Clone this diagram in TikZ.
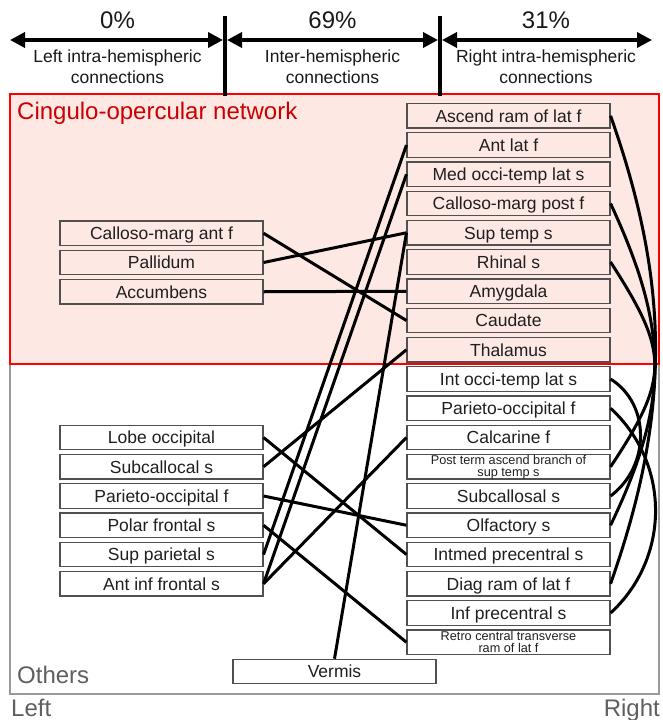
\documentclass[tikz,border=0pt]{standalone}
\usepackage{fontspec}
\setmainfont{Liberation Sans}
\usetikzlibrary{arrows.meta}
\definecolor{netfill}{RGB}{253,232,228}
\definecolor{netred}{RGB}{255,0,0}
\definecolor{nettext}{RGB}{204,0,0}
\definecolor{othgray}{RGB}{153,153,153}
\definecolor{lblgray}{RGB}{95,95,95}
\definecolor{boxline}{RGB}{80,80,80}
\begin{document}
\begin{tikzpicture}[x=1pt,y=-1pt,
  boxbase/.style={draw=boxline,line width=1.1pt,minimum width=203pt,minimum height=24.5pt,inner sep=0pt,text=black!88},
  box/.style={boxbase,text height=12.5pt,text depth=0pt,font=\fontsize{17.5}{20}\selectfont},
  smallbox/.style={boxbase,font=\fontsize{12.7}{12}\selectfont,align=center},
  conn/.style={line width=3pt,black},
  hdr/.style={line width=3.5pt,{Triangle[length=15pt,width=15pt]}-{Triangle[length=15pt,width=15pt]}},
  bar/.style={line width=4pt},
  pct/.style={font=\fontsize{24}{26}\selectfont,text=black!90},
  sublbl/.style={font=\fontsize{17.5}{21}\selectfont,align=center,text=black!90},
  biglbl/.style={font=\fontsize{24}{26}\selectfont,inner sep=0pt}
]
\useasboundingbox (0,0) rectangle (662,720);
% regions
\draw[draw=othgray,line width=2.2pt] (10,364) rectangle (659,694);
\draw[draw=netred,fill=netfill,line width=2pt] (10,94) rectangle (659,364);
% header
\coordinate (a1) at (10,40);
\coordinate (a2) at (223,40);
\coordinate (b1) at (227,40);
\coordinate (b2) at (438,40);
\coordinate (c1) at (442,40);
\coordinate (c2) at (652,40);
\coordinate (bar1t) at (225,16);
\coordinate (bar1b) at (225,96);
\coordinate (bar2t) at (440,16);
\coordinate (bar2b) at (440,96);
\draw[bar] (bar1t) -- (bar1b);
\draw[bar] (bar2t) -- (bar2b);
\draw[hdr] (a1) -- (a2);
\draw[hdr] (b1) -- (b2);
\draw[hdr] (c1) -- (c2);
\node[pct] (p0) at (117.5,20) {0\%};
\node[pct] (p69) at (332.5,20) {69\%};
\node[pct] (p31) at (546,20) {31\%};
\node[sublbl] (s0) at (117.5,67) {Left intra-hemispheric\\connections};
\node[sublbl] (s69) at (332.5,67) {Inter-hemispheric\\connections};
\node[sublbl] (s31) at (546,67) {Right intra-hemispheric\\connections};
% region labels
\node[biglbl,anchor=base west,text=nettext] (cing) at (17,119) {Cingulo-opercular network};
\node[biglbl,anchor=base west,text=lblgray] (oth) at (17,683) {Others};
\node[biglbl,anchor=base west,text=lblgray] (lft) at (11,716) {Left};
\node[biglbl,anchor=base east,text=lblgray] (rgt) at (660,716) {Right};
% left nodes
\node[box] (cmaL) at (161.5,233.25) {Calloso-marg ant f};
\node[box] (palL) at (161.5,262.5) {Pallidum};
\node[box] (accL) at (161.5,291.75) {Accumbens};
\node[box] (loL) at (161.5,437.5) {Lobe occipital};
\node[box] (scL) at (161.5,466.75) {Subcallocal s};
\node[box] (poL) at (161.5,496) {Parieto-occipital f};
\node[box] (pfL) at (161.5,525.25) {Polar frontal s};
\node[box] (spL) at (161.5,554.5) {Sup parietal s};
\node[box] (aifL) at (161.5,583.75) {Ant inf frontal s};
% right nodes
\node[box] (arR) at (508.5,115.75) {Ascend ram of lat f};
\node[box] (alR) at (508.5,145) {Ant lat f};
\node[box] (moR) at (508.5,174.25) {Med occi-temp lat s};
\node[box] (cmpR) at (508.5,203.5) {Calloso-marg post f};
\node[box] (stR) at (508.5,232.75) {Sup temp s};
\node[box] (rhR) at (508.5,262) {Rhinal s};
\node[box] (amR) at (508.5,291.25) {Amygdala};
\node[box] (caR) at (508.5,320.5) {Caudate};
\node[box] (thR) at (508.5,349.75) {Thalamus};
\node[box] (ioR) at (508.5,379) {Int occi-temp lat s};
\node[box] (poR) at (508.5,408.25) {Parieto-occipital f};
\node[box] (calR) at (508.5,437.5) {Calcarine f};
\node[smallbox] (ptR) at (508.5,466.75) {Post term ascend branch of\\sup temp s};
\node[box] (scR) at (508.5,496) {Subcallosal s};
\node[box] (olR) at (508.5,525.25) {Olfactory s};
\node[box] (impR) at (508.5,554.5) {Intmed precentral s};
\node[box] (drR) at (508.5,583.75) {Diag ram of lat f};
\node[box] (ipR) at (508.5,613) {Inf precentral s};
\node[smallbox] (rcR) at (508.5,642.25) {Retro central transverse\\ram of lat f};
\node[box] (verm) at (334.5,671.5) {Vermis};
% inter-hemispheric connections
\draw[conn] (cmaL.east) -- (caR.west);
\draw[conn] (palL.east) -- (stR.west);
\draw[conn] (accL.east) -- (amR.west);
\draw[conn] (alR.west) -- (spL.east);
\draw[conn] (moR.west) -- (aifL.east);
\draw[conn] (stR.west) -- (verm.north);
\draw[conn] (thR.west) -- (scL.east);
\draw[conn] (loL.east) -- (impR.west);
\draw[conn] (poL.east) -- (olR.west);
\draw[conn] (pfL.east) -- (rcR.west);
\draw[conn] (aifL.east) -- (calR.west);
% right intra-hemispheric connections
\draw[conn] (arR.east) .. controls +(60,170) and +(60,-170) .. (drR.east);
\draw[conn] (cmpR.east) .. controls +(58,125) and +(60,-125) .. (olR.east);
\draw[conn] (rhR.east) .. controls +(58,90) and +(60,-90) .. (ptR.east);
\draw[conn] (ioR.east) .. controls +(40,25) and +(40,-30) .. (scR.east);
\draw[conn] (poR.east) .. controls +(60,55) and +(60,-55) .. (ipR.east);
\end{tikzpicture}
\end{document}
